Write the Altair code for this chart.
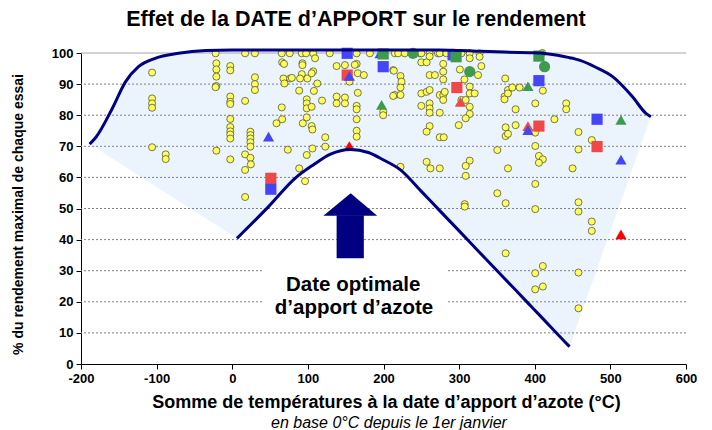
import altair as alt
import pandas as pd

FONT = "Liberation Sans"
NAVY = "#000080"

# ---------------- texts ----------------
title_text = "Effet de la DATE d’APPORT sur le rendement"
x_title = "Somme de températures à la date d’apport d’azote (°C)"
x_subtitle = "en base 0°C depuis le 1er janvier"
y_title = "% du rendement maximal de chaque essai"
annotation_lines = ["Date optimale", "d’apport d’azote"]
annotation_x = [160, 161]
annotation_y = [25.4, 18.0]

# ---------------- ticks ----------------
x_ticks = [-200, -100, 0, 100, 200, 300, 400, 500, 600]
y_ticks = [0, 10, 20, 30, 40, 50, 60, 70, 80, 90, 100]
grid_dotted = [10, 20, 30, 40, 50, 60, 70, 80, 90]
grid_solid = [100]

# ---------------- envelope ----------------
env_x = [-188.6, -180, -159, -141, -124, -102, -71, -35, 0, 6.2, 12, 48, 83, 107, 130,
         156, 180, 200, 222, 250, 274, 300, 323, 360, 393, 406, 440, 446, 452, 459,
         480, 503, 529, 547, 553.6]
env_upper = [70.7, 73.0, 82.0, 90.8, 95.6, 98.3, 99.9, 100.8, 101.0, 101.0, 101.0, 101.0,
             101.0, 101.0, 101.0, 101.0, 101.0, 101.0, 101.0, 101.0, 101.0, 100.8, 100.6,
             100.3, 100.1, 100.0, 98.8, 98.5, 98.2, 97.7, 95.5, 92.4, 86.0, 80.6, 79.5]
env_lower = [70.7, 69.4, 66.1, 63.3, 60.6, 57.2, 52.4, 46.8, 41.4, 40.4, 41.8, 50.6,
             59.7, 64.0, 67.5, 69.0, 68.0, 65.6, 62.5, 55.5, 49.4, 42.8, 36.9, 27.5,
             19.1, 15.8, 7.1, 5.6, 9.7, 14.5, 29.0, 44.8, 62.6, 75.0, 79.5]
inner_start, inner_end = 6.2, 446

# ---------------- arrow ----------------
arrow_head_x = [120.5, 156.6, 191.7]
arrow_head_y = [47.7, 54.9, 47.7]
arrow_head_base = [47.7, 47.7, 47.7]
arrow_shaft = {"x": 138.0, "x2": 174.0, "y": 34.0, "y2": 47.8}

# ---------------- label box ----------------
box = {"x": 41, "x2": 284, "y": 12.5, "y2": 34}

# ---------------- trials (yellow) ----------------
yellow_points = [
    (-106, 93.7), (-106, 85.4), (-106, 83.8), (-106, 82.4), (-106, 69.7),
    (-88, 67.4), (-88, 65.9),
    (-22, 99.9), (-21, 96.7), (-21, 94.7), (-21, 92.4), (-21, 89.4), (-22, 89.0), (-21, 68.6),
    (-2.6, 95.8), (-2.6, 94.4), (-2.6, 86.0), (-2.6, 84.3), (-2.6, 83.6), (-2.6, 78.8),
    (-2.6, 76.2), (-2.6, 74.8), (-2.6, 73.8), (-2.6, 72.5), (-2.6, 65.8),
    (17, 99.9), (17, 84.6), (17, 67.4), (17, 62.4), (17, 53.7),
    (30, 99.9), (30, 92.2), (30, 90.0), (30, 88.1),
    (24, 74.7), (24, 73.6), (24, 72.5), (24, 71.3), (24, 69.9), (24, 66.3), (24.6, 64.2),
    (65.5, 99.9), (76, 99.9), (66, 97.0), (68.5, 96.5), (67.7, 91.8), (76.5, 91.8), (69, 90.2),
    (78.8, 92.0), (65.5, 82.5), (66, 78.7), (58.5, 77.4), (73.5, 68.9), (88.5, 87.9),
    (88.5, 62.9), (96.3, 58.8),
    (92, 99.9), (97.6, 99.9), (107, 99.9), (109.5, 98.3), (92.8, 96.7), (92.8, 96.1),
    (92, 93.2), (99.3, 91.8), (89.7, 91.8), (107, 94.1), (105, 93.5), (112.5, 90.2),
    (108, 87.8), (98.5, 85.1), (98.5, 83.8), (98.5, 82.2), (105, 82.7), (118.7, 84.7),
    (98.5, 79.3), (93.3, 77.4), (105, 76.5), (106, 75.4), (123, 72.9), (123, 69.9),
    (106, 69.3), (98.5, 67.2),
    (129, 99.9), (182, 99.9), (248, 99.9), (272, 99.9), (288, 99.9), (303, 99.9),
    (138, 95.8), (149, 96.1), (138, 86.0), (149, 85.7), (138, 83.8), (149, 83.8),
    (155, 90.8), (164.5, 99.9), (164.5, 96.5), (162, 96.2), (166, 93.5), (174, 92.9),
    (166, 87.2), (164.5, 83.0), (164.5, 81.9), (164.5, 78.7), (164.5, 75.0), (164.5, 73.1),
    (199.6, 81.1), (199.6, 80.0), (215, 99.9), (212.8, 94.5), (215, 86.5), (212.8, 86.2),
    (219.4, 99.9), (228, 99.9), (250, 99.9), (261, 99.9), (274.4, 99.9), (283.2, 99.9),
    (314, 99.9), (327, 99.9),
    (250, 97.0), (257, 97.0), (261, 98.9), (279, 96.5), (279, 94.0), (279, 91.5),
    (261, 92.9), (268, 92.9),
    (301, 94.7), (307, 91.5), (314, 89.2), (314, 87.0), (320.6, 87.0), (325, 92.9),
    (329.4, 95.8), (327, 98.8), (314, 98.3),
    (213.7, 94.3), (222.5, 92.6), (223.8, 90.8), (222.5, 88.9), (222.5, 86.5),
    (250, 87.0), (257, 87.5), (261, 88.1), (274.4, 86.5), (279, 86.5), (279, 84.9), (281, 87.5),
    (250, 83.0), (261, 83.8), (261, 82.2), (261, 80.8), (274.4, 80.8),
    (303, 84.9), (308.7, 84.9), (314, 82.7), (314, 80.4), (308.7, 79.0), (299.5, 76.8),
    (261, 76.5), (257, 74.7), (274.4, 72.9), (279.7, 72.9),
    (361, 91.8), (360, 86.0), (360, 85.1), (364.6, 88.1), (364.6, 87.0), (370.3, 88.9), (380, 88.9),
    (410.7, 87.9), (410, 100.0),
    (400.7, 83.8), (374.7, 81.9), (361.5, 76.1), (361.5, 73.3), (364.6, 74.0), (374.7, 76.8),
    (400.7, 74.4), (426, 78.7), (441.6, 83.8), (441.6, 81.9), (457.8, 74.6), (475.4, 72.0),
    (400.7, 70.1), (457.8, 69.0), (350.5, 68.8), (405.5, 66.9), (410.7, 65.8), (405.5, 64.7),
    (450, 62.9), (364.6, 62.9), (222.5, 63.4), (257, 65.0), (262, 62.9), (274.4, 62.9),
    (314, 65.4), (308.7, 63.7), (308.7, 60.5), (400.7, 57.9), (350.5, 54.9), (361.5, 51.7),
    (307.4, 51.4), (307.4, 50.6), (400.7, 49.8), (457.8, 52.0), (457.8, 49.0), (475.4, 45.8),
    (475.4, 42.8), (361.5, 35.6), (410.7, 31.5), (400.6, 29.2), (457.8, 29.4), (400.6, 24.0),
    (410.7, 24.9), (457.8, 17.9),
]

# ---------------- highlighted trials ----------------
# (x, y, series)
marked_points = [
    (152, 92.9, "rouge carré"), (297, 88.9, "rouge carré"), (405.5, 76.5, "rouge carré"),
    (482.4, 69.9, "rouge carré"), (51, 59.7, "rouge carré"),
    (152, 99.9, "bleu carré"), (199.6, 95.6, "bleu carré"), (292, 99.4, "bleu carré"),
    (405.5, 91.1, "bleu carré"), (482.4, 78.7, "bleu carré"), (51, 56.2, "bleu carré"),
    (195.5, 99.9, "bleu triangle"),
    (199.6, 99.7, "vert carré"), (296, 98.8, "vert carré"), (405.5, 99.0, "vert carré"),
    (301.7, 84.3, "rouge triangle"), (391, 76.5, "rouge triangle"),
    (154.8, 70.1, "rouge vif triangle"), (514, 41.7, "rouge vif triangle"),
    (48, 73.1, "bleu triangle"), (154.8, 92.6, "bleu triangle"), (391, 75.2, "bleu triangle"),
    (514, 65.7, "bleu triangle"),
    (197.5, 83.3, "vert triangle"), (391, 89.3, "vert triangle"), (514, 78.5, "vert triangle"),
    (239, 99.9, "vert rond"), (314, 94.0, "vert rond"), (413, 95.6, "vert rond"),
]
series_names = ["rouge carré", "bleu carré", "vert carré", "rouge triangle",
                "rouge vif triangle", "bleu triangle", "vert triangle", "vert rond"]
series_colors = ["#F04848", "#4545F5", "#3E9A4C", "#F04848", "#FF0000", "#4545F5",
                 "#3E9A4C", "#3E9A4C"]
series_shapes = ["square", "square", "square", "triangle-up", "triangle-up",
                 "triangle-up", "triangle-up", "circle"]
series_sizes = [125, 125, 125, 120, 120, 120, 120, 95]

# ---------------- build tables ----------------
env_df = pd.DataFrame({"x": env_x, "upper": env_upper, "lower": env_lower})
inner_df = env_df[(env_df.x >= inner_start) & (env_df.x <= inner_end)]
yellow_df = pd.DataFrame(yellow_points, columns=["x", "y"])
marked_df = pd.DataFrame(marked_points, columns=["x", "y", "serie"])
marked_df["ordre"] = range(len(marked_df))
head_df = pd.DataFrame({"x": arrow_head_x, "y": arrow_head_y, "y2": arrow_head_base})
shaft_df = pd.DataFrame([arrow_shaft])
box_df = pd.DataFrame([box])
ann_df = pd.DataFrame({"x": annotation_x, "y": annotation_y, "t": annotation_lines})
dotted_df = pd.DataFrame({"y": grid_dotted})
solid_df = pd.DataFrame({"y": grid_solid})

xs = alt.Scale(domain=[-200, 600], nice=False, zero=False)
ys = alt.Scale(domain=[0, 100], nice=False, zero=False)

common_axis = dict(
    labelFont=FONT, labelFontSize=13, labelFontWeight="bold", labelColor="black",
    domainColor="black", tickColor="black", tickSize=5, labelPadding=3,
    titleFont=FONT, titleFontWeight="bold", titleColor="black",
    grid=False, labelFlush=False, labelOverlap=False, labelBound=False,
    titleAlign="center", titleBaseline="middle",
    labelExpr="datum.value + ''",
)
x_axis = alt.Axis(values=x_ticks, title=x_title, titleFontSize=18,
                  titleX=305, titleY=38.5, **common_axis)
y_axis = alt.Axis(values=y_ticks, title=y_title, titleFontSize=14,
                  titleAngle=270, titleX=-63, titleY=161, **common_axis)


def X(field="x"):
    # every layer carries the very same axis definition, so the merge keeps it intact
    return alt.X(f"{field}:Q", scale=xs, axis=x_axis)


def Y(field="y"):
    return alt.Y(f"{field}:Q", scale=ys, axis=y_axis)


fill = alt.Chart(env_df).mark_area(color="#EBF4FD", interpolate="monotone").encode(
    x=X(), y=Y("upper"), y2="lower:Q",
)

grid_d = alt.Chart(dotted_df).mark_rule(color="#808080", strokeDash=[2, 2], strokeWidth=1).encode(y=Y())
grid_s = alt.Chart(solid_df).mark_rule(color="#A6A6A6", strokeWidth=1).encode(y=Y())

white_box = alt.Chart(box_df).mark_rect(color="white").encode(x=X(), x2="x2:Q", y=Y(), y2="y2:Q")

ann = alt.Chart(ann_df).mark_text(font=FONT, fontSize=20.5, fontWeight="bold", color="black").encode(
    x=X(), y=Y(), text="t:N")

shaft = alt.Chart(shaft_df).mark_rect(color=NAVY).encode(x=X(), x2="x2:Q", y=Y(), y2="y2:Q")
head = alt.Chart(head_df).mark_area(color=NAVY, interpolate="linear").encode(x=X(), y=Y(), y2="y2:Q")

yellow = alt.Chart(yellow_df).mark_circle(
    color="#FFFF5C", stroke="#55553A", strokeWidth=0.8, size=50, opacity=1
).encode(x=X(), y=Y())

marked = alt.Chart(marked_df).mark_point(filled=True, opacity=1).encode(
    x=X(), y=Y(),
    color=alt.Color("serie:N", scale=alt.Scale(domain=series_names, range=series_colors), legend=None),
    shape=alt.Shape("serie:N", scale=alt.Scale(domain=series_names, range=series_shapes), legend=None),
    size=alt.Size("serie:N", scale=alt.Scale(domain=series_names, range=series_sizes), legend=None),
    order=alt.Order("ordre:Q"),
)

outer = alt.Chart(env_df).mark_line(color=NAVY, strokeWidth=3, interpolate="monotone").encode(
    x=X(), y=Y("upper"))
inner = alt.Chart(inner_df).mark_line(color=NAVY, strokeWidth=3, interpolate="monotone").encode(
    x=X(), y=Y("lower"))

title = alt.Chart(pd.DataFrame({"t": [title_text]})).mark_text(
    font=FONT, fontSize=21.5, fontWeight="bold", color="black", baseline="middle"
).encode(text="t:N", x=alt.value(275), y=alt.value(-33))

subtitle = alt.Chart(pd.DataFrame({"t": [x_subtitle]})).mark_text(
    font=FONT, fontSize=16, fontStyle="italic", color="black", baseline="alphabetic"
).encode(text="t:N", x=alt.value(308), y=alt.value(374.5))

chart = alt.layer(
    fill, grid_d, grid_s, white_box, ann, shaft, head, yellow, marked, outer, inner,
    title, subtitle,
).properties(
    width=605,
    height=311,
    padding={"left": 73, "top": 45, "right": 18, "bottom": 66},
    autosize=alt.AutoSizeParams(type="none"),
    background="white",
).configure_view(stroke=None)

chart.save("out.html", embed_options={"renderer": "svg", "actions": False})
